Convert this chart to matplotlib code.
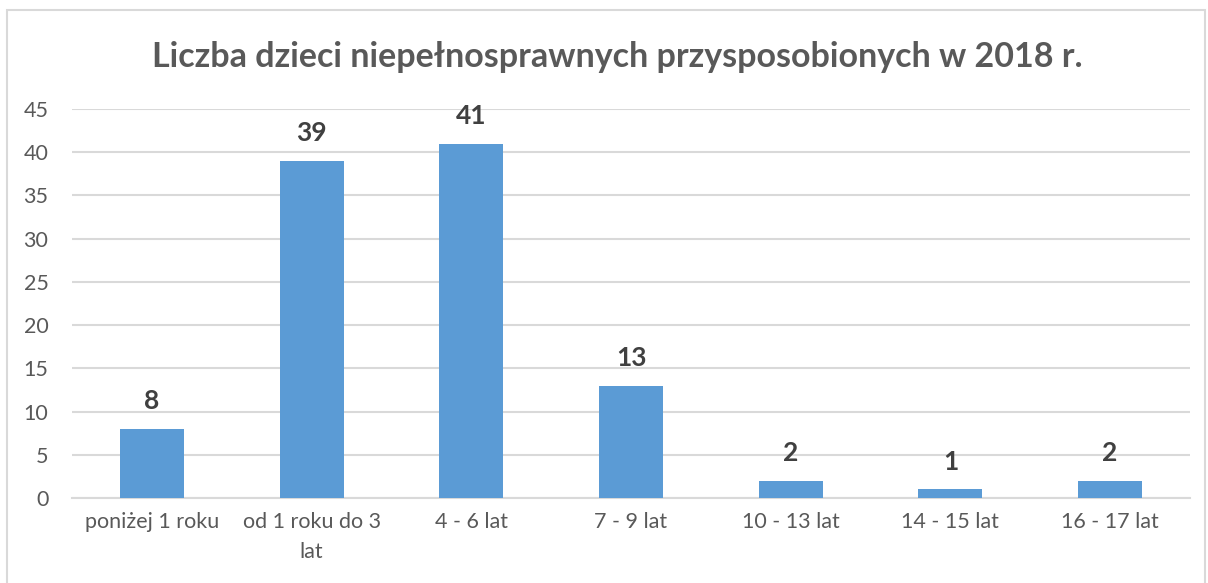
import matplotlib
matplotlib.use("Agg")
import matplotlib.pyplot as plt
from matplotlib.patches import Rectangle

categories = ["poniżej 1 roku", "od 1 roku do 3\nlat", "4 - 6 lat", "7 - 9 lat",
              "10 - 13 lat", "14 - 15 lat", "16 - 17 lat"]
values = [8, 39, 41, 13, 2, 1, 2]
title = "Liczba dzieci niepełnosprawnych przysposobionych w 2018 r."

plt.rcParams['font.family'] = ['Lato', 'DejaVu Sans']

fig = plt.figure(figsize=(12.08, 5.83), dpi=100)
ax = fig.add_axes([72/1208, 1-498/583, (1190-72)/1208, (498-109)/583])

x = list(range(len(categories)))
ax.bar(x, values, width=0.4, color="#5b9bd5", zorder=3)
for xi, v in zip(x, values):
    ax.text(xi, v + 1.8, str(v), ha="center", va="bottom", fontsize=19,
            fontweight="bold", color="#404040")

ax.set_xlim(-0.5, len(categories) - 0.5)
ax.set_ylim(0, 45)
ax.set_yticks(range(0, 46, 5))
ax.grid(axis="y", color="#d9d9d9", linewidth=1.5, zorder=0)
for s in ["top", "right", "left"]:
    ax.spines[s].set_visible(False)
ax.spines["bottom"].set_color("#d9d9d9")
ax.spines["bottom"].set_linewidth(1.5)
ax.set_xticks(x)
ax.set_xticklabels(categories, fontsize=15.5, color="#595959", linespacing=1.65)
ax.tick_params(axis="both", length=0, labelsize=15.5, labelcolor="#595959")
ax.tick_params(axis="y", pad=17)
ax.tick_params(axis="x", pad=10)

fig.text(617/1208, 1-57/583, title, ha="center", va="center", fontsize=24.5,
         fontweight="bold", color="#595959")

fig.patches.append(Rectangle((7/1208, -0.05), (1205-7)/1208, 1-10/583+0.05,
                             transform=fig.transFigure, fill=False,
                             edgecolor="#d9d9d9", linewidth=1.5))

fig.savefig("out.png", dpi=100)
